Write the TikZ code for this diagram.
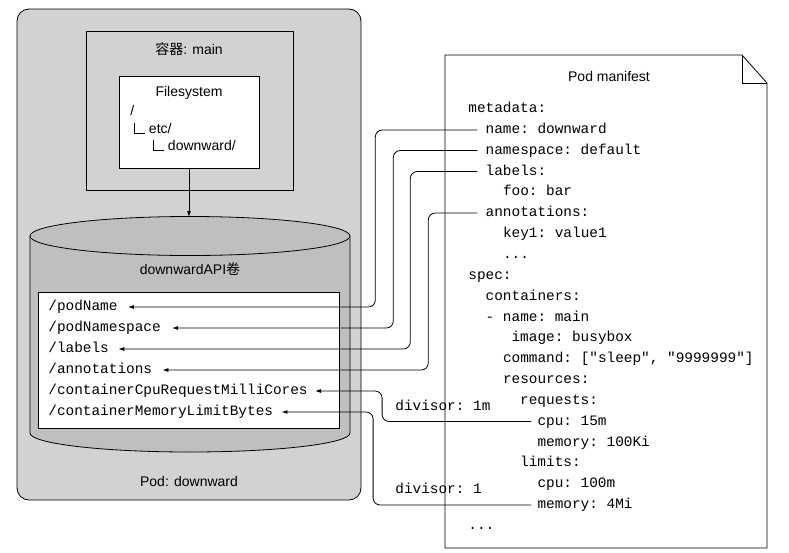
\documentclass[tikz,border=0pt]{standalone}
\usepackage{fontspec}
\setmainfont{Liberation Sans}
\setmonofont{Liberation Mono}
\newfontfamily\cjkfont{Noto Sans CJK SC}
\newcommand\branch{\rule{0.7pt}{10.5pt}\rule{10pt}{0.7pt}}
\usetikzlibrary{arrows.meta}

\begin{document}
\begin{tikzpicture}[x=1pt, y=-1pt, line width=0.8pt,
  txt/.style={font=\fontsize{14}{16}\selectfont, inner sep=0pt, text height=10pt, text depth=3pt},
  yml/.style={font=\ttfamily\fontsize{14.4}{16}\selectfont, anchor=west, inner sep=0pt, text height=10pt, text depth=3pt},
  link/.style={draw, rounded corners=7pt, -{Latex[length=6pt,width=4pt]}}]

\useasboundingbox (0,0) rectangle (789,552);

% Pod with its container
\draw[fill=gray!35, rounded corners=12pt] (17,9) rectangle (361,500);
\node[txt] (podlabel) at (189,483) {Pod: downward};
\draw[fill=gray!35] (86,31) rectangle (293,190);
\node[txt] (ctrlabel) at (189,51) {{\cjkfont 容器}: main};
\node[draw, fill=white, minimum width=140pt, minimum height=92pt] (fs) at (189,122) {};
\node[txt] (fstitle) at (189,93) {Filesystem};
\node[txt, anchor=west] (fsroot) at (130,112) {/};
\node[txt, anchor=west] (fsetc) at (134,130) {\branch{} etc/};
\node[txt, anchor=west] (fsdown) at (153,147) {\branch{} downward/};

% downwardAPI volume
\coordinate (voltop) at (189,217);
\draw[fill=gray!50] (30,236) -- (30,433) arc[start angle=180, end angle=0, x radius=160, y radius=19] -- (350,236);
\draw[fill=gray!50] (190,236) ellipse[x radius=160, y radius=19.5];
\draw[-{Latex[length=6pt,width=4pt]}] (fs.south) -- (voltop);
\node[txt] (vollabel) at (190,271) {downwardAPI{\cjkfont 卷}};
\node[draw, fill=white, minimum width=301pt, minimum height=136pt] (files) at (188.5,360) {};
\node[yml] (f-name) at (48,307) {/podName};
\node[yml] (f-ns) at (48,328) {/podNamespace};
\node[yml] (f-labels) at (48,349) {/labels};
\node[yml] (f-annot) at (48,370) {/annotations};
\node[yml] (f-cpu) at (48,391) {/containerCpuRequestMilliCores};
\node[yml] (f-mem) at (48,412) {/containerMemoryLimitBytes};

% Pod manifest page
\draw[fill=white] (445,55) -- (742,55) -- (767,83) -- (767,548) -- (445,548) -- cycle;
\draw (742,55) -- (742,83) -- (767,83);
\node[txt] (mtitle) at (609,78) {Pod manifest};
\node[yml] (m-meta) at (468,109) {metadata:};
\node[yml] (m-name) at (485.3,130) {name: downward};
\node[yml] (m-ns) at (485.3,150.5) {namespace: default};
\node[yml] (m-labels) at (485.3,171.5) {labels:};
\node[yml] (m-foo) at (502.6,192) {foo: bar};
\node[yml] (m-annot) at (485.3,213) {annotations:};
\node[yml] (m-key) at (502.6,234) {key1: value1};
\node[yml] (m-dots1) at (502.6,254.5) {...};
\node[yml] (m-spec) at (468,275.5) {spec:};
\node[yml] (m-ctrs) at (485.3,296.5) {containers:};
\node[yml] (m-cname) at (485.3,317.5) {- name: main};
\node[yml] (m-image) at (511.2,338) {image: busybox};
\node[yml] (m-cmd) at (502.6,359) {command: ["sleep", "9999999"]};
\node[yml] (m-res) at (502.6,380) {resources:};
\node[yml] (m-req) at (519.8,400.5) {requests:};
\node[yml] (m-rcpu) at (537.1,421.5) {cpu: 15m};
\node[yml] (m-rmem) at (537.1,442.5) {memory: 100Ki};
\node[yml] (m-lim) at (519.8,463) {limits:};
\node[yml] (m-lcpu) at (537.1,484) {cpu: 100m};
\node[yml] (m-lmem) at (537.1,505) {memory: 4Mi};
\node[yml] (m-dots2) at (468,526) {...};

% divisors
\node[yml] (div1) at (395,407) {divisor: 1m};
\node[yml] (div2) at (395,490) {divisor: 1};

% manifest fields into the volume files
\draw[link] ([xshift=-8pt]m-name.west) -- ++(-102,0) |- ([xshift=10pt]f-name.east);
\draw[link] ([xshift=-8pt]m-ns.west) -- ++(-84,0) |- ([xshift=11pt]f-ns.east);
\draw[link] ([xshift=-8pt]m-labels.west) -- ++(-67,0) |- ([xshift=9pt]f-labels.east);
\draw[link] ([xshift=-8pt]m-annot.west) -- ++(-49,0) |- ([xshift=10pt]f-annot.east);
\draw[link] ([xshift=-6pt]m-rcpu.west) -- ++(-149,0) |- ([xshift=7pt]f-cpu.east);
\draw[link] ([xshift=-6pt]m-lmem.west) -- ++(-158,0) |- ([xshift=8pt]f-mem.east);
\end{tikzpicture}
\end{document}
